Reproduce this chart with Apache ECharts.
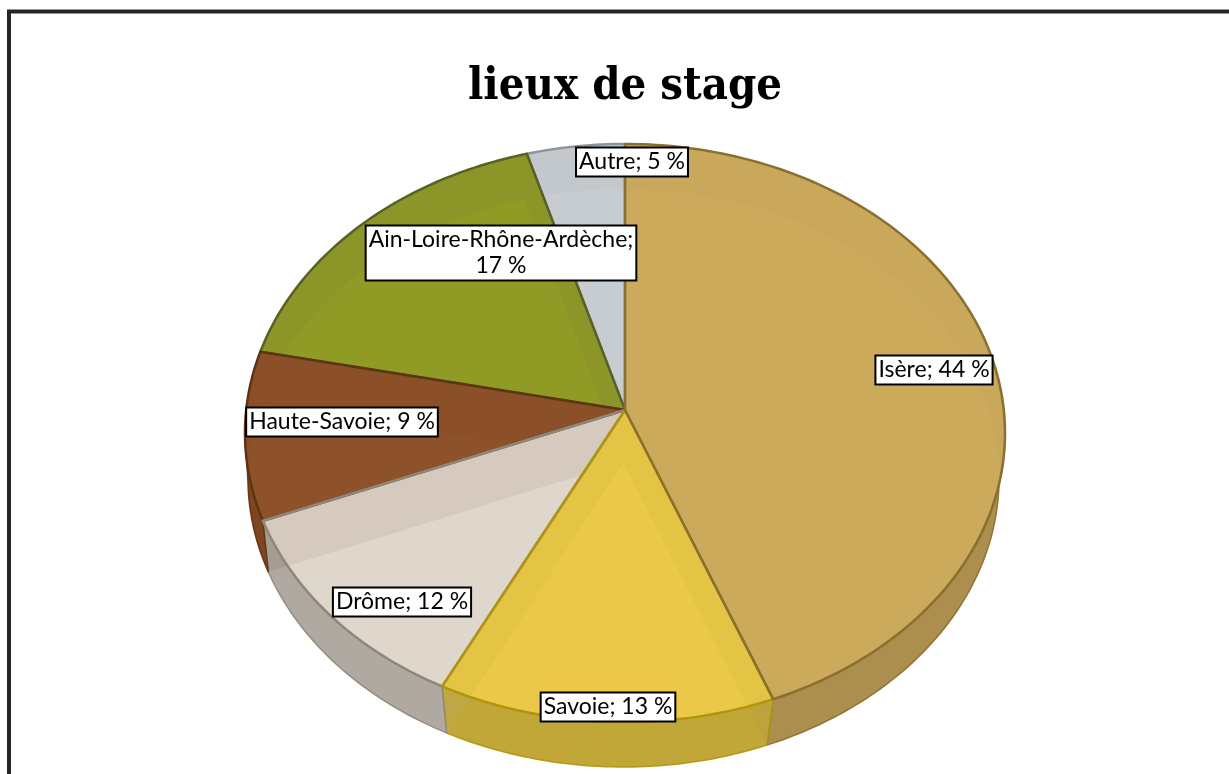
<!DOCTYPE html>
<html>
<head>
<meta charset="utf-8">
<title>lieux de stage</title>
<style>
html, body { margin: 0; padding: 0; background: #fff; }
#main { width: 1229px; height: 774px; }
</style>
<script src="https://cdn.jsdelivr.net/npm/echarts@6/dist/echarts.min.js"></script>
</head>
<body>
<div id="main"></div>
<script>
var categories = ['Isère', 'Savoie', 'Drôme', 'Haute-Savoie', 'Ain-Loire-Rhône-Ardèche', 'Autre'];
var values = [44.1, 13.3, 11.5, 9.4, 17.2, 4.5];

// colours, same order as categories
var innerColors = ['#ccaa5c', '#ecc848', '#dfd6cc', '#8d5229', '#909b26', '#c6ccd0'];
var bandColors = ['#c9a85b', '#e3c445', '#d5cabd', '#8b5028', '#8c9628', '#c2c8cc'];
var wallColors = ['#a98b4c', '#bca236', '#aaa49c', '#7b4520', '#6f7a1c', '#9aa2a8'];
var edgeColors = ['#8a6f2e', '#b0950f', '#8f8778', '#5e3414', '#5a6120', '#8a949c'];

// label box centres in pixels
var labelCenters = [[934, 370], [608, 707], [402, 602], [342, 422], [501, 253], [632, 162]];

// the pie is a tilted disc: top face and bottom face have their own perspective
var topFace = {cx: 625, cy: 410, a: 378.8, b: 287.2, p: 0.0796};
var bottomFace = {cx: 623.5, cy: 462, a: 375, b: 288.1, p: 0.0554};
var WALL_FROM = 94, WALL_TO = 266;

var total = values.reduce(function (s, v) { return s + v; }, 0);

function startAngle(index) {
    var sum = 0;
    for (var i = 0; i < index; i++) {
        sum += values[i];
    }
    return sum / total * 360;
}

function project(face, deg) {
    var t = deg * Math.PI / 180;
    var u = Math.sin(t), v = Math.cos(t);
    var w = 1 + face.p * v;
    return [face.cx + face.a * u / w, face.cy - face.b * v / w];
}

function arc(face, from, to) {
    var pts = [];
    var n = Math.max(2, Math.ceil(to - from));
    for (var i = 0; i <= n; i++) {
        pts.push(project(face, from + (to - from) * i / n));
    }
    return pts;
}

function sector(face, index, api) {
    var from = startAngle(index);
    var to = from + api.value(0) / total * 360;
    return [[face.cx, face.cy]].concat(arc(face, from, to));
}

// bottom face, only seen through the walls
function renderBottom(params, api) {
    return {
        type: 'polygon',
        shape: {points: sector(bottomFace, params.dataIndex, api)},
        style: {fill: innerColors[params.dataIndex]}
    };
}

function renderWall(params, api) {
    var start = startAngle(params.dataIndex);
    var from = Math.max(start, WALL_FROM);
    var to = Math.min(start + api.value(0) / total * 360, WALL_TO);
    if (to <= from) {
        return null;
    }
    return {
        type: 'polygon',
        shape: {points: arc(topFace, from, to).concat(arc(bottomFace, from, to).reverse())},
        style: {
            fill: wallColors[params.dataIndex],
            stroke: edgeColors[params.dataIndex],
            lineWidth: 1.5,
            lineJoin: 'round',
            opacity: 0.9
        }
    };
}

function renderBand(params, api) {
    return {
        type: 'polygon',
        shape: {points: sector(topFace, params.dataIndex, api)},
        style: {fill: bandColors[params.dataIndex]}
    };
}

// lighter part of the top face: where it lies over its own bottom sector
function renderInner(params, api) {
    return {
        type: 'polygon',
        shape: {points: sector(bottomFace, params.dataIndex, api)},
        clipPath: {
            type: 'polygon',
            shape: {points: sector(topFace, params.dataIndex, api)}
        },
        style: {fill: innerColors[params.dataIndex]}
    };
}

function renderEdge(params, api) {
    return {
        type: 'polygon',
        z2: values.length - params.dataIndex,
        shape: {points: sector(topFace, params.dataIndex, api)},
        style: {
            fill: 'none',
            stroke: edgeColors[params.dataIndex],
            lineWidth: 2.5,
            lineJoin: 'round'
        }
    };
}

function labelText(i) {
    var name = categories[i] + ';';
    var pct = Math.round(values[i]) + ' %';
    // the long name does not fit on one line in the original
    return name.length > 20 ? name + '\n' + pct : name + ' ' + pct;
}

function renderLabel(params) {
    var c = labelCenters[params.dataIndex];
    return {
        type: 'text',
        x: c[0],
        y: c[1],
        style: {
            text: labelText(params.dataIndex),
            align: 'center',
            verticalAlign: 'middle',
            fill: '#000',
            font: '23px Lato',
            lineHeight: 26,
            backgroundColor: '#fff',
            borderColor: '#000',
            borderWidth: 2,
            padding: [1, 2, 0, 2]
        }
    };
}

var pieData = values.map(function (v, i) {
    return {name: categories[i], value: v};
});

function layer(renderItem, z) {
    return {
        type: 'custom',
        coordinateSystem: 'none',
        data: pieData,
        renderItem: renderItem,
        z: z,
        silent: true,
        animation: false
    };
}

var myChart = echarts.init(document.getElementById('main'), null, {renderer: 'canvas'});
myChart.setOption({
    backgroundColor: '#fff',
    animation: false,
    title: {
        text: 'lieux de stage',
        left: 620,
        textAlign: 'center',
        top: 60,
        textStyle: {
            fontFamily: '"DejaVu Serif Condensed", "DejaVu Serif"',
            fontWeight: 'bold',
            fontSize: 45,
            color: '#000'
        }
    },
    graphic: [{
        type: 'rect',
        silent: true,
        shape: {x: 9, y: 11.5, width: 1400, height: 1000},
        style: {fill: 'none', stroke: '#262626', lineWidth: 4}
    }],
    series: [
        layer(renderBottom, 1),
        layer(renderWall, 2),
        layer(renderBand, 3),
        layer(renderInner, 4),
        layer(renderEdge, 5),
        layer(renderLabel, 6)
    ]
});
</script>
</body>
</html>
